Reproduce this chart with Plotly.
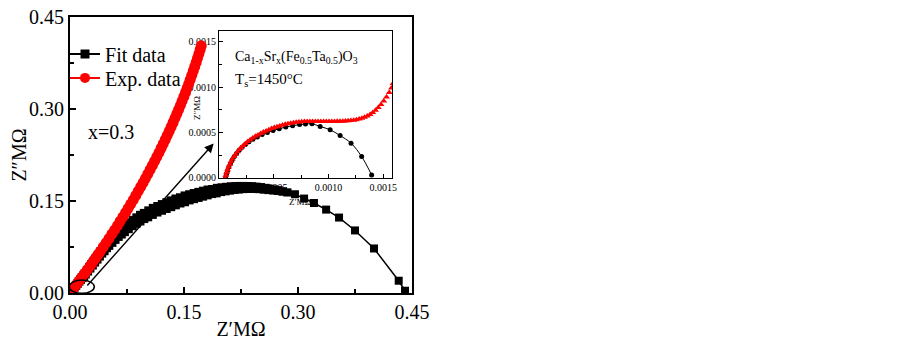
import plotly.graph_objects as go
import math

# ---------------- data ----------------
fit_x = [0.000, 0.002, 0.004, 0.006, 0.008, 0.010, 0.012, 0.014, 0.016, 0.018,
         0.020, 0.023, 0.026, 0.029, 0.032, 0.035, 0.038, 0.041, 0.044, 0.047,
         0.050, 0.054, 0.058, 0.062, 0.066, 0.070, 0.075, 0.080, 0.085, 0.090,
         0.095, 0.100, 0.106, 0.112, 0.118, 0.124, 0.130, 0.136, 0.142, 0.148,
         0.154, 0.160, 0.166, 0.172, 0.178, 0.184, 0.190, 0.196, 0.202, 0.208,
         0.214, 0.220, 0.226, 0.232, 0.238, 0.244, 0.250, 0.256, 0.262, 0.268,
         0.274, 0.280, 0.286, 0.296, 0.308, 0.321, 0.337, 0.354, 0.375, 0.400,
         0.4325, 0.4408]
fit_y = [0.000, 0.003, 0.006, 0.009, 0.012, 0.0155, 0.019, 0.022, 0.025, 0.028,
         0.031, 0.036, 0.041, 0.046, 0.051, 0.056, 0.061, 0.066, 0.070, 0.075,
         0.079, 0.084, 0.089, 0.094, 0.098, 0.102, 0.107, 0.112, 0.116, 0.120,
         0.124, 0.127, 0.131, 0.135, 0.138, 0.141, 0.144, 0.147, 0.150, 0.152,
         0.155, 0.157, 0.159, 0.161, 0.163, 0.165, 0.166, 0.168, 0.169, 0.170,
         0.171, 0.1715, 0.172, 0.172, 0.172, 0.1715, 0.171, 0.170, 0.169, 0.168,
         0.167, 0.1655, 0.164, 0.161, 0.154, 0.1467, 0.136, 0.123, 0.102, 0.0726,
         0.020, 0.0037]

exp_x = [0.0000, 0.0031, 0.0062, 0.0092, 0.0122, 0.0158, 0.0194, 0.0229, 0.0264, 0.0298,
         0.0332, 0.0366, 0.0400, 0.0438, 0.0477, 0.0514, 0.0551, 0.0588, 0.0625, 0.0660,
         0.0696, 0.0731, 0.0765, 0.0799, 0.0833, 0.0866, 0.0898, 0.0930, 0.0962, 0.0993,
         0.1024, 0.1054, 0.1084, 0.1113, 0.1142, 0.1171, 0.1199, 0.1226, 0.1253, 0.1280,
         0.1306, 0.1331, 0.1357, 0.1381, 0.1405, 0.1429, 0.1453, 0.1475, 0.1498, 0.1520,
         0.1541, 0.1562, 0.1582, 0.1602, 0.1622, 0.1641, 0.1660, 0.1678, 0.1696, 0.1713,
         0.1727]
exp_y = [0.000, 0.005, 0.010, 0.015, 0.020, 0.026, 0.032, 0.038, 0.044, 0.050,
         0.056, 0.062, 0.068, 0.075, 0.082, 0.089, 0.096, 0.103, 0.110, 0.117,
         0.124, 0.131, 0.138, 0.145, 0.152, 0.159, 0.166, 0.173, 0.180, 0.187,
         0.194, 0.201, 0.208, 0.215, 0.222, 0.229, 0.236, 0.243, 0.250, 0.257,
         0.264, 0.271, 0.278, 0.285, 0.292, 0.299, 0.306, 0.313, 0.320, 0.327,
         0.334, 0.341, 0.348, 0.355, 0.362, 0.369, 0.376, 0.383, 0.390, 0.397,
         0.403]

inset_exp_x = [0.000055, 0.000062, 0.000070, 0.000078, 0.000088, 0.000099, 0.000110, 0.000123,
               0.000137, 0.000152, 0.000168, 0.000185, 0.000203, 0.000222, 0.000242, 0.000263,
               0.000285, 0.000308, 0.000332, 0.000356, 0.000380, 0.000405, 0.000430, 0.000455,
               0.000480, 0.000505, 0.000530, 0.000555, 0.000580, 0.000605, 0.000630, 0.000655,
               0.000680, 0.000705, 0.000730, 0.000755, 0.000780, 0.000805, 0.000830, 0.000855,
               0.000880, 0.000905, 0.000930, 0.000955, 0.000980, 0.001005, 0.001030, 0.001055,
               0.001080, 0.001105, 0.001130, 0.001155, 0.001180, 0.001205, 0.001230, 0.001255,
               0.001280, 0.001305, 0.001330, 0.001355, 0.001380, 0.001405, 0.001430, 0.001455,
               0.001480, 0.001505, 0.001530, 0.001555, 0.001575, 0.001590]
inset_exp_y = [0.000000, 0.000030, 0.000062, 0.000092, 0.000122, 0.000152, 0.000180, 0.000208,
               0.000236, 0.000262, 0.000288, 0.000312, 0.000336, 0.000358, 0.000380, 0.000401,
               0.000421, 0.000440, 0.000458, 0.000474, 0.000490, 0.000505, 0.000518, 0.000531,
               0.000543, 0.000554, 0.000564, 0.000573, 0.000582, 0.000590, 0.000597, 0.000603,
               0.000608, 0.000612, 0.000615, 0.000618, 0.000620, 0.000621, 0.000622, 0.000622,
               0.000622, 0.000622, 0.000622, 0.000622, 0.000622, 0.000622, 0.000622, 0.000622,
               0.000623, 0.000624, 0.000625, 0.000627, 0.000629, 0.000632, 0.000636, 0.000641,
               0.000648, 0.000657, 0.000668, 0.000682, 0.000699, 0.000720, 0.000745, 0.000774,
               0.000808, 0.000846, 0.000890, 0.000940, 0.000990, 0.001040]

inset_fit_x = [0.000060, 0.000068, 0.000078, 0.000090, 0.000104, 0.000120, 0.000139, 0.000160,
               0.000184, 0.000211, 0.000241, 0.000274, 0.000310, 0.000350, 0.000394, 0.000442,
               0.000494, 0.000550, 0.000610, 0.000672, 0.000736, 0.000790, 0.000849, 0.000924,
               0.001015, 0.001106, 0.001206, 0.001303, 0.001394]
inset_fit_y = [0.000000, 0.000040, 0.000080, 0.000120, 0.000160, 0.000198, 0.000235, 0.000270,
               0.000304, 0.000337, 0.000368, 0.000398, 0.000426, 0.000452, 0.000477, 0.000500,
               0.000522, 0.000542, 0.000560, 0.000575, 0.000587, 0.000594, 0.000596, 0.000567,
               0.000530, 0.000467, 0.000383, 0.000235, 0.000033]

main_ticks = [0.0, 0.15, 0.30, 0.45]
main_tick_text = ["0.00", "0.15", "0.30", "0.45"]
main_minor = [0.075, 0.225, 0.375]
inset_x_ticks = [0.0005, 0.0010, 0.0015]
inset_x_text = ["0.0005", "0.0010", "0.0015"]
inset_y_ticks = [0.0, 0.0005, 0.0010, 0.0015]
inset_y_text = ["0.0000", "0.0005", "0.0010", "0.0015"]
inset_minor = [0.00025, 0.00075, 0.00125]

FONT = "Liberation Serif"

# style: marker size of the dense fit band
fit_sizes = [8 + 5 * math.sin(math.pi * min(v / 0.29, 1.0)) for v in fit_x]
NOLINE = dict(width=0)

fig = go.Figure()

# inset (drawn first, underneath)
fig.add_trace(go.Scatter(x=inset_fit_x, y=inset_fit_y, mode="lines+markers",
                         line=dict(color="black", width=1, shape="spline"),
                         marker=dict(symbol="circle", size=5, color="black", opacity=1, line=NOLINE),
                         showlegend=False, xaxis="x", yaxis="y"))
fig.add_trace(go.Scatter(x=inset_exp_x, y=inset_exp_y, mode="markers",
                         marker=dict(symbol="triangle-up", size=6, color="#ff0000", opacity=1, line=NOLINE),
                         showlegend=False, xaxis="x", yaxis="y"))

# main plot
fig.add_trace(go.Scatter(x=fit_x, y=fit_y, mode="lines+markers",
                         line=dict(color="black", width=1.5),
                         marker=dict(symbol="square", size=fit_sizes, color="black",
                                     opacity=1, line=NOLINE),
                         showlegend=False, xaxis="x2", yaxis="y2"))
fig.add_trace(go.Scatter(x=exp_x, y=exp_y, mode="lines+markers",
                         line=dict(color="#ff0000", width=1.5),
                         marker=dict(symbol="circle", size=11, color="#ff0000", opacity=1, line=NOLINE),
                         showlegend=False, xaxis="x2", yaxis="y2"))
# legend entries
fig.add_trace(go.Scatter(x=[None], y=[None], mode="lines+markers", name="Fit data",
                         line=dict(color="black", width=2),
                         marker=dict(symbol="square", size=9, color="black", line=NOLINE),
                         xaxis="x2", yaxis="y2", legend="legend"))
fig.add_trace(go.Scatter(x=[None], y=[None], mode="lines+markers", name="Exp. data",
                         line=dict(color="#ff0000", width=2),
                         marker=dict(symbol="circle", size=10, color="#ff0000", line=NOLINE),
                         xaxis="x2", yaxis="y2", legend="legend2"))

ax_common = dict(showgrid=False, zeroline=False, showline=True, linecolor="black",
                 mirror=True, ticks="inside", tickcolor="black", automargin=False,
                 ticklabeloverflow="allow")
leg_common = dict(xanchor="left", yanchor="top", bgcolor="rgba(0,0,0,0)",
                  font=dict(size=20, family=FONT), itemwidth=30)

# page body has an 8px margin: the figure is made 8px smaller and margins shifted
fig.update_layout(
    width=895, height=334, autosize=False,
    margin=dict(l=62, r=491, t=9, b=49, autoexpand=False),
    paper_bgcolor="white", plot_bgcolor="rgba(0,0,0,0)",
    font=dict(family=FONT, color="black"),
    xaxis2=dict(ax_common, domain=[0, 1], anchor="y2", range=[0, 0.45],
                tickvals=main_ticks, ticktext=main_tick_text, ticklen=6, tickwidth=1.5,
                linewidth=2, tickfont=dict(size=20, family=FONT),
                minor=dict(tickvals=main_minor, ticks="inside", ticklen=4, tickwidth=1.5),
                title=dict(text="Z′MΩ", font=dict(size=20, family=FONT), standoff=0)),
    yaxis2=dict(ax_common, domain=[0, 1], anchor="x2", range=[0, 0.45],
                tickvals=main_ticks, ticktext=main_tick_text, ticklen=6, tickwidth=1.5,
                linewidth=2, tickfont=dict(size=20, family=FONT),
                minor=dict(tickvals=main_minor, ticks="inside", ticklen=4, tickwidth=1.5),
                title=dict(text="Z″MΩ", font=dict(size=20, family=FONT), standoff=0)),
    xaxis=dict(ax_common, domain=[0.4357, 0.9415], anchor="y", range=[0, 0.00158],
               tickvals=inset_x_ticks, ticktext=inset_x_text, ticklen=4, tickwidth=1,
               linewidth=1, tickfont=dict(size=10, family=FONT),
               minor=dict(tickvals=inset_minor, ticks="inside", ticklen=3, tickwidth=1)),
    yaxis=dict(ax_common, domain=[0.4167, 0.9504], anchor="x", range=[0, 0.00162],
               tickvals=inset_y_ticks, ticktext=inset_y_text, ticklen=4, tickwidth=1,
               linewidth=1, tickfont=dict(size=10, family=FONT),
               minor=dict(tickvals=inset_minor, ticks="inside", ticklen=3, tickwidth=1)),
    legend=dict(leg_common, x=-0.0146, y=0.937),
    legend2=dict(leg_common, x=-0.0146, y=0.850),
    showlegend=True,
)

fig.add_annotation(text="x=0.3", xref="paper", yref="paper", x=0.047, y=0.583,
                   xanchor="left", yanchor="middle", showarrow=False,
                   font=dict(size=20, family=FONT))
fig.add_annotation(text="Ca<sub>1-x</sub>Sr<sub>x</sub>(Fe<sub>0.5</sub>Ta<sub>0.5</sub>)O<sub>3</sub>",
                   xref="paper", yref="paper", x=0.478, y=0.855,
                   xanchor="left", yanchor="middle", showarrow=False,
                   font=dict(size=14, family=FONT))
fig.add_annotation(text="T<sub>s</sub>=1450°C", xref="paper", yref="paper", x=0.478, y=0.77,
                   xanchor="left", yanchor="middle", showarrow=False,
                   font=dict(size=15, family=FONT))
fig.add_annotation(text="Z″MΩ", xref="paper", yref="paper", x=0.371, y=0.67,
                   xanchor="center", yanchor="middle", showarrow=False, textangle=-90,
                   font=dict(size=9, family=FONT))
fig.add_annotation(text="Z′MΩ", xref="paper", yref="paper", x=0.6725, y=0.33,
                   xanchor="center", yanchor="middle", showarrow=False,
                   font=dict(size=9, family=FONT))
# arrow from the circled region to the inset
fig.add_annotation(text="", x=0.189, y=0.2437, xref="x2", yref="y2",
                   ax=0.021, ay=0.0097, axref="x2", ayref="y2",
                   showarrow=True, arrowhead=2, arrowsize=1.3, arrowwidth=1.4,
                   arrowcolor="black", standoff=0, startstandoff=0)
fig.add_shape(type="circle", xref="x2", yref="y2", x0=-0.001, x1=0.032, y0=-0.0005, y1=0.021,
              line=dict(color="black", width=1.5))

fig.write_html("out.html")
